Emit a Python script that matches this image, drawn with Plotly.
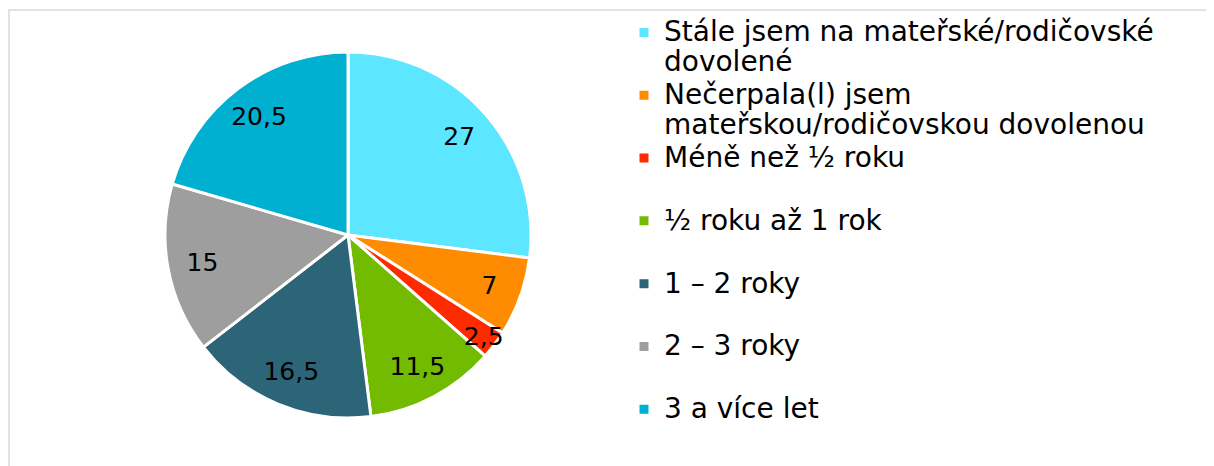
import plotly.graph_objects as go

categories = [
    "Stále jsem na mateřské/rodičovské<br>dovolené",
    "Nečerpala(l) jsem<br>mateřskou/rodičovskou dovolenou",
    "Méně než ½ roku<br> ",
    "½ roku až 1 rok<br> ",
    "1 – 2 roky<br> ",
    "2 – 3 roky<br> ",
    "3 a více let",
]
values = [27, 7, 2.5, 11.5, 16.5, 15, 20.5]
colors = ["#5CE6FF", "#FF8C00", "#FF2B00", "#72BB00", "#2C6478", "#9E9E9E", "#00B0D0"]

W, H = 1214, 466
OFF = 8  # page body margin
cx, cy, r = 348 - OFF, 235 - OFF, 183
domain = dict(x=[(cx - r) / W, (cx + r) / W], y=[(H - cy - r) / H, (H - cy + r) / H])

span = '<span style="font-size:28px">'
legend_labels = [span + c.replace("<br>", "</span><br>" + span) + "</span>" for c in categories]

fig = go.Figure()
# coloured slices with legend
fig.add_trace(go.Pie(
    labels=legend_labels,
    values=values,
    sort=False,
    direction="clockwise",
    rotation=0,
    marker=dict(colors=colors, line=dict(color="white", width=3)),
    textinfo="none",
    domain=domain,
    hoverinfo="label+value",
))
# transparent ring carrying the data labels further out (Excel best-fit style)
fig.add_trace(go.Pie(
    labels=["lbl%d" % i for i in range(len(values))],
    values=values,
    sort=False,
    direction="clockwise",
    rotation=0,
    hole=0.62,
    marker=dict(colors=["rgba(0,0,0,0)"] * len(values), line=dict(width=0)),
    textinfo="value",
    textposition="inside",
    insidetextorientation="horizontal",
    textfont=dict(size=25, color="black", family="DejaVu Sans"),
    domain=domain,
    showlegend=False,
    hoverinfo="skip",
))

fig.update_layout(
    width=W, height=H,
    margin=dict(l=0, r=0, t=0, b=0),
    paper_bgcolor="white",
    separators=", ",
    uniformtext=dict(minsize=25, mode="show"),
    showlegend=True,
    legend=dict(
        x=616 / W, y=1 - 3 / H, xanchor="left", yanchor="top",
        font=dict(size=23, color="black", family="DejaVu Sans"),
        bgcolor="rgba(0,0,0,0)",
        valign="top", itemwidth=30,
    ),
    shapes=[dict(type="rect", xref="paper", yref="paper",
                 x0=(9 - OFF) / W, x1=1.05, y0=-0.05, y1=1 - (10 - OFF) / H,
                 line=dict(color="#D9D9D9", width=1.5), fillcolor="rgba(0,0,0,0)", layer="below")],
)

fig.write_html("out.html")
